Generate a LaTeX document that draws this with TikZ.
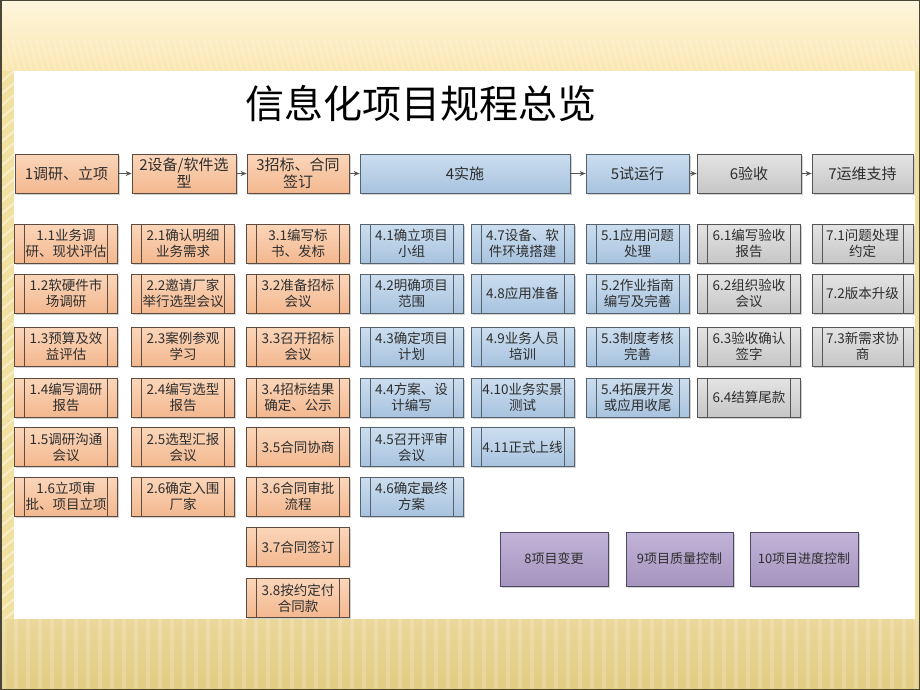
\documentclass[tikz,border=0pt]{standalone}
\usepackage{fontspec}
\setmainfont{Noto Sans CJK SC}
\usetikzlibrary{shadows,arrows.meta}
\definecolor{orT}{HTML}{FBD6BA}
\definecolor{orB}{HTML}{F3B88F}
\definecolor{orD}{HTML}{5E4B40}
\definecolor{blT}{HTML}{CCDEEF}
\definecolor{blB}{HTML}{A8C3DF}
\definecolor{blD}{HTML}{56626E}
\definecolor{grT}{HTML}{E4E4E4}
\definecolor{grB}{HTML}{C6C6C6}
\definecolor{grD}{HTML}{555555}
\definecolor{puT}{HTML}{C2B3D8}
\definecolor{puB}{HTML}{A595BF}
\definecolor{puD}{HTML}{4E4866}
\definecolor{txt}{HTML}{2E2E2E}
\definecolor{creamT}{HTML}{FEF6DD}
\definecolor{creamB}{HTML}{FAE6B0}
\definecolor{beigeT}{HTML}{EAD79A}
\definecolor{beigeB}{HTML}{E2CB82}
\definecolor{stripeL}{HTML}{F2E0A0}
\definecolor{frame}{HTML}{4A4636}
\tikzset{
  box/.style={rectangle, inner sep=0pt, align=center, text=txt, line width=0.8pt,
     drop shadow={shadow xshift=1.5pt, shadow yshift=-1.5pt, opacity=0.35}},
  head/.style={box, minimum width=103pt, minimum height=39pt, font=\fontsize{15}{17}\selectfont},
  sub/.style={box, minimum width=103pt, minimum height=39pt, font=\fontsize{13.5}{16}\selectfont,
     path picture={\draw[line width=0.8pt, draw=#1]
        ([xshift=10pt]path picture bounding box.north west) -- ([xshift=10pt]path picture bounding box.south west)
        ([xshift=-10pt]path picture bounding box.north east) -- ([xshift=-10pt]path picture bounding box.south east);}},
  orng/.style={top color=orT, bottom color=orB, draw=orD},
  blue/.style={top color=blT, bottom color=blB, draw=blD},
  gray/.style={top color=grT, bottom color=grB, draw=grD},
  purp/.style={box, top color=puT, bottom color=puB, draw=puD, minimum width=108pt, minimum height=54pt,
     font=\fontsize{13}{15}\selectfont},
  arr/.style={-{Stealth[length=6pt,width=5pt]}, draw=grD, line width=1pt},
}
\begin{document}
\begin{tikzpicture}[x=1pt,y=-1pt]
\useasboundingbox (0,0) rectangle (920,690);
% background
\fill[creamB] (0,0) rectangle (920,690);
\shade[top color=creamT, bottom color=creamB] (0,0) rectangle (920,71);
\foreach \i in {0,6,...,920} {\draw[white, opacity=0.25, line width=1.5pt] (\i,40) -- (\i+8,71);}
\fill[stripeL] (0,71) rectangle (14,619);
\foreach \i in {71,83,...,619} {\draw[white, opacity=0.45, line width=2pt] (0,\i+12) -- (14,\i);}
\shade[top color=beigeT, bottom color=beigeB] (0,619) rectangle (920,690);
\foreach \i in {4,16,...,920} {\draw[white, opacity=0.18, line width=4pt] (\i,619) -- (\i,690);}
\fill[stripeL] (915,71) rectangle (920,619);
\fill[white] (14,71) rectangle (915,619);
\draw[frame, line width=1.5pt] (0.75,0.75) rectangle (919.25,689.25);
% title
\node[font=\fontsize{39}{42}\selectfont, text=black, inner sep=0pt] (title) at (421,104) {信息化项目规程总览};
% header row
\node[head, orng, minimum width=103pt] (h1) at (66.5,173.5) {1调研、立项};
\node[head, orng, minimum width=104pt] (h2) at (184,173.5) {2设备/软件选\\型};
\node[head, orng, minimum width=102pt] (h3) at (298,173.5) {3招标、合同\\签订};
\node[head, blue, minimum width=210pt] (h4) at (465,173.5) {4实施};
\node[head, blue] (h5) at (637.5,173.5) {5试运行};
\node[head, gray, minimum width=104pt] (h6) at (749,173.5) {6验收};
\node[head, gray, minimum width=101pt] (h7) at (862.5,173.5) {7运维支持};
\draw[arr] (h1) -- (h2);
\draw[arr] (h2) -- (h3);
\draw[arr] (h3) -- (h4);
\draw[arr] (h4) -- (h5);
\draw[arr] (h5) -- (h6);
\draw[arr] (h6) -- (h7);
% column 1
\node[sub=orD, orng] (s11) at (66,243.5) {1.1业务调\\研、现状评估};
\node[sub=orD, orng] (s12) at (66,293.5) {1.2软硬件市\\场调研};
\node[sub=orD, orng] (s13) at (66,346.5) {1.3预算及效\\益评估};
\node[sub=orD, orng] (s14) at (66,397.5) {1.4编写调研\\报告};
\node[sub=orD, orng] (s15) at (66,447) {1.5调研沟通\\会议};
\node[sub=orD, orng] (s16) at (66,496.5) {1.6立项审\\批、项目立项};
% column 2
\node[sub=orD, orng] (s21) at (183,243.5) {2.1确认明细\\业务需求};
\node[sub=orD, orng] (s22) at (183,293.5) {2.2邀请厂家\\举行选型会议};
\node[sub=orD, orng] (s23) at (183,346.5) {2.3案例参观\\学习};
\node[sub=orD, orng] (s24) at (183,397.5) {2.4编写选型\\报告};
\node[sub=orD, orng] (s25) at (183,447) {2.5选型汇报\\会议};
\node[sub=orD, orng] (s26) at (183,496.5) {2.6确定入围\\厂家};
% column 3
\node[sub=orD, orng] (s31) at (298,243.5) {3.1编写标\\书、发标};
\node[sub=orD, orng] (s32) at (298,293.5) {3.2准备招标\\会议};
\node[sub=orD, orng] (s33) at (298,346.5) {3.3召开招标\\会议};
\node[sub=orD, orng] (s34) at (298,397.5) {3.4招标结果\\确定、公示};
\node[sub=orD, orng] (s35) at (298,447) {3.5合同协商};
\node[sub=orD, orng] (s36) at (298,496.5) {3.6合同审批\\流程};
\node[sub=orD, orng] (s37) at (298,547) {3.7合同签订};
\node[sub=orD, orng] (s38) at (298,598) {3.8按约定付\\合同款};
% column 4
\node[sub=blD, blue] (s41) at (411.5,243.5) {4.1确立项目\\小组};
\node[sub=blD, blue] (s42) at (411.5,293.5) {4.2明确项目\\范围};
\node[sub=blD, blue] (s43) at (411.5,346.5) {4.3确定项目\\计划};
\node[sub=blD, blue] (s44) at (411.5,397.5) {4.4方案、设\\计编写};
\node[sub=blD, blue] (s45) at (411.5,447) {4.5召开评审\\会议};
\node[sub=blD, blue] (s46) at (411.5,496.5) {4.6确定最终\\方案};
% column 5
\node[sub=blD, blue] (s47) at (522.5,243.5) {4.7设备、软\\件环境搭建};
\node[sub=blD, blue] (s48) at (522.5,293.5) {4.8应用准备};
\node[sub=blD, blue] (s49) at (522.5,346.5) {4.9业务人员\\培训};
\node[sub=blD, blue] (s410) at (522.5,397.5) {4.10业务实景\\测试};
\node[sub=blD, blue] (s411) at (522.5,447) {4.11正式上线};
% column 6
\node[sub=blD, blue] (s51) at (637.5,243.5) {5.1应用问题\\处理};
\node[sub=blD, blue] (s52) at (637.5,293.5) {5.2作业指南\\编写及完善};
\node[sub=blD, blue] (s53) at (637.5,346.5) {5.3制度考核\\完善};
\node[sub=blD, blue] (s54) at (637.5,397.5) {5.4拓展开发\\或应用收尾};
% column 7
\node[sub=grD, gray] (s61) at (749,243.5) {6.1编写验收\\报告};
\node[sub=grD, gray] (s62) at (749,293.5) {6.2组织验收\\会议};
\node[sub=grD, gray] (s63) at (749,346.5) {6.3验收确认\\签字};
\node[sub=grD, gray] (s64) at (749,397.5) {6.4结算尾款};
% column 8
\node[sub=grD, gray, minimum width=101pt] (s71) at (862.5,243.5) {7.1问题处理\\约定};
\node[sub=grD, gray, minimum width=101pt] (s72) at (862.5,293.5) {7.2版本升级};
\node[sub=grD, gray, minimum width=101pt] (s73) at (862.5,346.5) {7.3新需求协\\商};
% bottom purple boxes
\node[purp] (p8) at (554,559) {8项目变更};
\node[purp, minimum width=107pt] (p9) at (679.5,559) {9项目质量控制};
\node[purp] (p10) at (804,559) {10项目进度控制};
\end{tikzpicture}
\end{document}
